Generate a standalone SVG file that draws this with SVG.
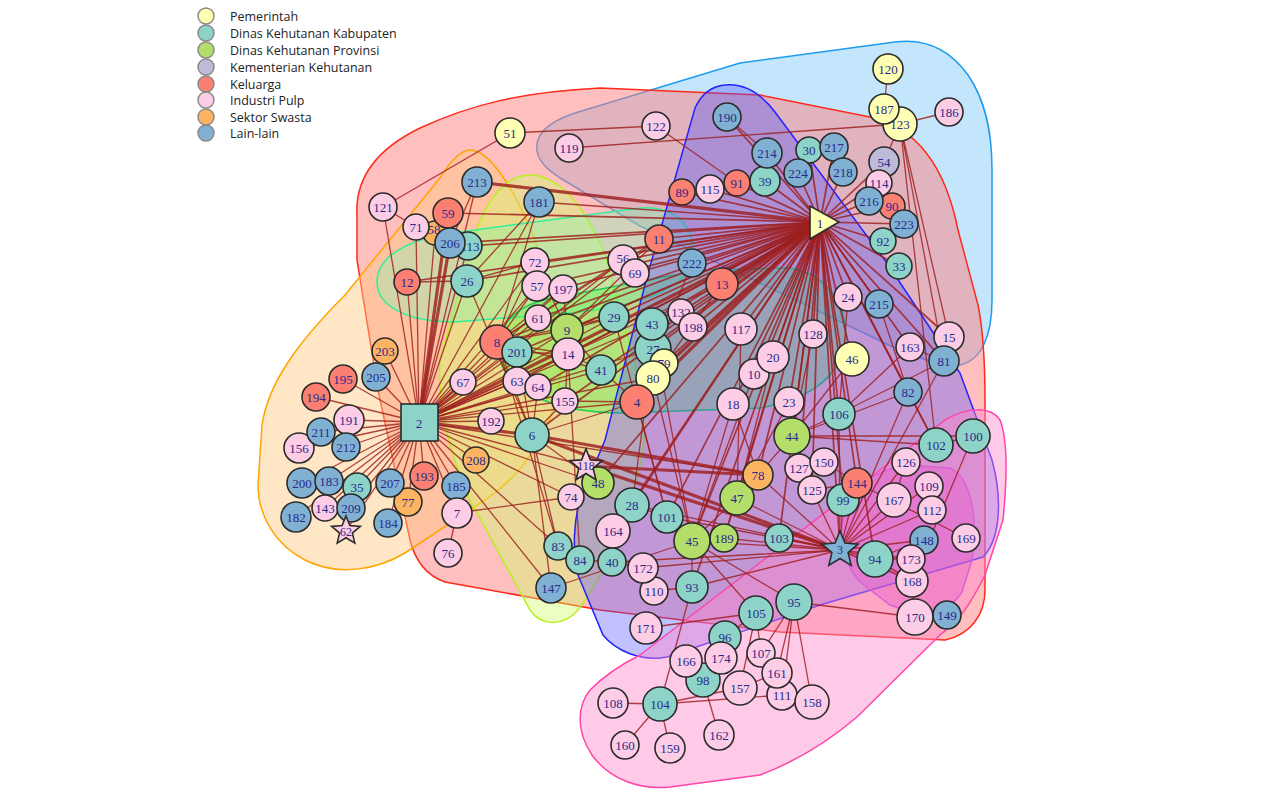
<svg xmlns="http://www.w3.org/2000/svg" width="1268" height="806" viewBox="0 0 1268 806">
<style>
.Y{fill:#FFFFB3}.T{fill:#8DD3C7}.G{fill:#B3DE69}.L{fill:#BEBADA}.R{fill:#FB8072}.P{fill:#FCCDE5}.O{fill:#FDB462}.B{fill:#80B1D3}
#nodes circle,#nodes rect,#nodes polygon{stroke:#2b2b2b;stroke-width:1.6}
#nodes text{font-family:"Liberation Serif","Times New Roman",serif;font-size:13px;fill:#2a2a8a;text-anchor:middle;dominant-baseline:central}
#legend circle{stroke:#8a8a8a;stroke-width:1.5}
#legend text{font-family:"Open Sans","DejaVu Sans",sans-serif;font-size:12.5px;fill:#222}
#connectors line{stroke:#9E1F1F;stroke-opacity:.82;stroke-width:1.3}
#connectors line.h{stroke-width:1.7}
#connectors line.t{stroke-width:3.2}
.hull{stroke-width:1.5}
</style>
<rect width="1268" height="806" fill="#fff"/>
<g id="legend">
<circle cx="206" cy="16" r="8" class="Y"/><text x="230" y="21">Pemerintah</text>
<circle cx="206" cy="33" r="8" class="T"/><text x="230" y="38">Dinas Kehutanan Kabupaten</text>
<circle cx="206" cy="50" r="8" class="G"/><text x="230" y="55">Dinas Kehutanan Provinsi</text>
<circle cx="206" cy="67" r="8" class="L"/><text x="230" y="72">Kementerian Kehutanan</text>
<circle cx="206" cy="84" r="8" class="R"/><text x="230" y="89">Keluarga</text>
<circle cx="206" cy="100" r="8" class="P"/><text x="230" y="105">Industri Pulp</text>
<circle cx="206" cy="117" r="8" class="O"/><text x="230" y="122">Sektor Swasta</text>
<circle cx="206" cy="133" r="8" class="B"/><text x="230" y="138">Lain-lain</text>
</g>
<g id="hulls">
<path class="hull" fill="#87CEFA" fill-opacity=".5" stroke="#1E9BEF" d="M 537,150 C 535,135 548,122 575,113 L 740,63 L 895,42 C 925,38 950,50 968,75 C 985,100 992,130 992,170 L 992,300 C 992,335 982,360 960,365 C 945,368 925,360 895,348 L 760,283 L 640,226 L 560,178 C 545,168 538,160 537,150 Z"/>
<path class="hull" fill="#FF7F7F" fill-opacity=".5" stroke="#FF2A1A" d="M 357,215 C 355,180 375,150 420,128 C 470,105 520,92 600,88 L 760,95 L 870,117 C 915,127 945,165 958,230 L 978,305 C 983,330 985,360 985,400 L 985,590 C 985,615 970,635 945,640 L 780,632 L 600,610 L 445,582 C 425,575 415,560 410,540 L 378,390 L 357,260 Z"/>
<path class="hull" fill="#FFC77F" fill-opacity=".45" stroke="#FFA500" d="M 470,150 C 490,150 515,190 535,240 L 560,340 C 568,410 530,470 485,500 L 405,553 C 380,568 340,578 305,560 C 275,545 258,515 258,485 L 262,425 C 268,385 295,345 345,295 L 440,178 C 450,162 460,150 470,150 Z"/>
<path class="hull" fill="#CCFF66" fill-opacity=".4" stroke="#B8F020" d="M 530,175 C 558,175 585,205 605,255 L 645,400 C 650,470 615,560 578,610 C 562,628 540,625 530,610 L 470,500 C 448,450 437,400 440,360 L 475,235 C 488,195 508,175 530,175 Z"/>
<path class="hull" fill="#66FFB2" fill-opacity=".3" stroke="#33EE99" d="M 377,282 C 377,255 410,238 460,232 L 640,208 C 678,205 697,230 692,258 C 688,290 640,305 580,312 L 455,322 C 405,322 377,305 377,282 Z"/>
<path class="hull" fill="#33FF33" fill-opacity=".3" stroke="#22CC55" d="M 500,340 C 505,312 530,300 570,295 L 700,270 L 790,268 C 830,275 850,310 845,345 C 838,380 805,400 760,408 L 620,413 C 560,412 510,395 500,360 Z"/>
<path class="hull" fill="#4D4DFF" fill-opacity=".35" stroke="#2222FF" d="M 725,85 C 745,83 762,95 775,112 L 887,263 L 960,373 L 992,460 C 1003,500 1000,540 983,557 L 820,605 L 667,657 C 640,662 615,650 603,635 L 578,575 C 572,550 574,520 580,500 L 605,440 L 647,277 L 695,108 C 702,93 712,86 725,85 Z"/>
<path class="hull" fill="#CC33CC" fill-opacity=".4" stroke="#BB44DD" d="M 842,525 C 845,490 875,470 905,465 L 950,468 C 972,478 978,520 972,560 L 962,592 C 948,615 918,616 890,605 L 860,582 C 847,568 840,545 842,525 Z"/>
<path class="hull" fill="#FF88CC" fill-opacity=".45" stroke="#FF44AA" d="M 640,655 L 757,565 L 880,470 L 945,420 C 965,408 990,405 1000,420 C 1008,440 1007,480 1003,520 L 985,575 C 970,605 960,620 940,635 L 857,717 C 830,740 800,760 760,775 L 670,787 C 640,790 610,780 592,755 C 575,730 578,705 590,690 C 605,675 620,665 640,655 Z"/>
</g>
<g id="connectors">
<line class="t" x1="820" y1="222" x2="477" y2="182"/>
<line class="h" x1="820" y1="222" x2="539" y2="202"/>
<line class="h" x1="820" y1="222" x2="448" y2="213"/>
<line class="h" x1="820" y1="222" x2="450" y2="243"/>
<line class="h" x1="820" y1="222" x2="468" y2="246"/>
<line class="h" x1="820" y1="222" x2="467" y2="281"/>
<line class="h" x1="820" y1="222" x2="407" y2="282"/>
<line class="h" x1="820" y1="222" x2="659" y2="239"/>
<line class="h" x1="820" y1="222" x2="623" y2="260"/>
<line class="h" x1="820" y1="222" x2="635" y2="273"/>
<line class="h" x1="820" y1="222" x2="692" y2="263"/>
<line class="t" x1="820" y1="222" x2="722" y2="284"/>
<line class="h" x1="820" y1="222" x2="535" y2="262"/>
<line class="h" x1="820" y1="222" x2="537" y2="286"/>
<line class="h" x1="820" y1="222" x2="563" y2="288"/>
<line class="h" x1="820" y1="222" x2="538" y2="318"/>
<line class="h" x1="820" y1="222" x2="567" y2="330"/>
<line class="h" x1="820" y1="222" x2="568" y2="354"/>
<line class="h" x1="820" y1="222" x2="497" y2="342"/>
<line class="h" x1="820" y1="222" x2="517" y2="352"/>
<line class="h" x1="820" y1="222" x2="614" y2="317"/>
<line class="h" x1="820" y1="222" x2="652" y2="324"/>
<line class="h" x1="820" y1="222" x2="681" y2="312"/>
<line class="h" x1="820" y1="222" x2="693" y2="327"/>
<line class="h" x1="820" y1="222" x2="741" y2="329"/>
<line class="h" x1="820" y1="222" x2="653" y2="349"/>
<line class="h" x1="820" y1="222" x2="664" y2="363"/>
<line class="t" x1="820" y1="222" x2="653" y2="378"/>
<line class="h" x1="820" y1="222" x2="601" y2="370"/>
<line class="h" x1="820" y1="222" x2="517" y2="381"/>
<line class="h" x1="820" y1="222" x2="538" y2="387"/>
<line class="h" x1="820" y1="222" x2="565" y2="401"/>
<line class="t" x1="820" y1="222" x2="637" y2="402"/>
<line class="h" x1="820" y1="222" x2="733" y2="404"/>
<line class="h" x1="820" y1="222" x2="754" y2="374"/>
<line class="h" x1="820" y1="222" x2="773" y2="357"/>
<line class="h" x1="820" y1="222" x2="813" y2="334"/>
<line class="h" x1="820" y1="222" x2="848" y2="297"/>
<line class="h" x1="820" y1="222" x2="879" y2="304"/>
<line class="h" x1="820" y1="222" x2="852" y2="359"/>
<line class="h" x1="820" y1="222" x2="910" y2="347"/>
<line class="h" x1="820" y1="222" x2="949" y2="337"/>
<line class="h" x1="820" y1="222" x2="944" y2="361"/>
<line class="h" x1="820" y1="222" x2="908" y2="392"/>
<line class="h" x1="820" y1="222" x2="789" y2="402"/>
<line class="h" x1="820" y1="222" x2="839" y2="414"/>
<line class="h" x1="820" y1="222" x2="792" y2="436"/>
<line class="h" x1="820" y1="222" x2="936" y2="445"/>
<line class="h" x1="820" y1="222" x2="857" y2="483"/>
<line class="h" x1="820" y1="222" x2="843" y2="500"/>
<line class="h" x1="820" y1="222" x2="840" y2="550"/>
<line class="h" x1="820" y1="222" x2="875" y2="559"/>
<line class="h" x1="820" y1="222" x2="758" y2="475"/>
<line class="h" x1="820" y1="222" x2="737" y2="498"/>
<line class="h" x1="820" y1="222" x2="692" y2="541"/>
<line class="h" x1="820" y1="222" x2="724" y2="538"/>
<line class="h" x1="820" y1="222" x2="667" y2="517"/>
<line class="h" x1="820" y1="222" x2="632" y2="505"/>
<line class="h" x1="820" y1="222" x2="692" y2="587"/>
<line class="h" x1="820" y1="222" x2="779" y2="538"/>
<line class="h" x1="820" y1="222" x2="812" y2="490"/>
<line class="h" x1="820" y1="222" x2="799" y2="468"/>
<line class="t" x1="820" y1="222" x2="419" y2="422"/>
<line class="h" x1="820" y1="222" x2="532" y2="435"/>
<line class="h" x1="820" y1="222" x2="598" y2="483"/>
<line class="h" x1="820" y1="222" x2="613" y2="531"/>
<line class="h" x1="820" y1="222" x2="682" y2="192"/>
<line class="h" x1="820" y1="222" x2="710" y2="189"/>
<line class="h" x1="820" y1="222" x2="737" y2="183"/>
<line class="h" x1="820" y1="222" x2="765" y2="181"/>
<line class="h" x1="820" y1="222" x2="767" y2="153"/>
<line class="h" x1="820" y1="222" x2="798" y2="173"/>
<line class="h" x1="820" y1="222" x2="809" y2="150"/>
<line class="h" x1="820" y1="222" x2="834" y2="147"/>
<line class="h" x1="820" y1="222" x2="843" y2="172"/>
<line class="h" x1="820" y1="222" x2="884" y2="162"/>
<line class="h" x1="820" y1="222" x2="879" y2="183"/>
<line class="h" x1="820" y1="222" x2="869" y2="201"/>
<line class="h" x1="820" y1="222" x2="892" y2="206"/>
<line class="h" x1="820" y1="222" x2="904" y2="224"/>
<line class="h" x1="820" y1="222" x2="883" y2="241"/>
<line class="h" x1="820" y1="222" x2="899" y2="266"/>
<line class="h" x1="820" y1="222" x2="727" y2="117"/>
<line x1="419" y1="422" x2="407" y2="282"/>
<line x1="419" y1="422" x2="467" y2="281"/>
<line x1="419" y1="422" x2="383" y2="207"/>
<line x1="419" y1="422" x2="416" y2="227"/>
<line class="t" x1="419" y1="422" x2="448" y2="213"/>
<line class="t" x1="419" y1="422" x2="450" y2="243"/>
<line x1="419" y1="422" x2="468" y2="246"/>
<line x1="419" y1="422" x2="477" y2="182"/>
<line x1="419" y1="422" x2="539" y2="202"/>
<line x1="419" y1="422" x2="385" y2="351"/>
<line x1="419" y1="422" x2="376" y2="377"/>
<line x1="419" y1="422" x2="343" y2="379"/>
<line x1="419" y1="422" x2="316" y2="397"/>
<line x1="419" y1="422" x2="349" y2="420"/>
<line x1="419" y1="422" x2="321" y2="432"/>
<line x1="419" y1="422" x2="299" y2="448"/>
<line x1="419" y1="422" x2="346" y2="447"/>
<line x1="419" y1="422" x2="302" y2="483"/>
<line x1="419" y1="422" x2="329" y2="481"/>
<line x1="419" y1="422" x2="357" y2="487"/>
<line x1="419" y1="422" x2="325" y2="508"/>
<line x1="419" y1="422" x2="351" y2="508"/>
<line x1="419" y1="422" x2="296" y2="517"/>
<line x1="419" y1="422" x2="346" y2="531"/>
<line x1="419" y1="422" x2="390" y2="483"/>
<line x1="419" y1="422" x2="388" y2="523"/>
<line x1="419" y1="422" x2="408" y2="502"/>
<line x1="419" y1="422" x2="424" y2="476"/>
<line x1="419" y1="422" x2="456" y2="486"/>
<line x1="419" y1="422" x2="457" y2="513"/>
<line x1="419" y1="422" x2="476" y2="460"/>
<line x1="419" y1="422" x2="491" y2="421"/>
<line x1="419" y1="422" x2="463" y2="382"/>
<line x1="419" y1="422" x2="497" y2="342"/>
<line x1="419" y1="422" x2="517" y2="352"/>
<line x1="419" y1="422" x2="517" y2="381"/>
<line x1="419" y1="422" x2="538" y2="387"/>
<line class="t" x1="419" y1="422" x2="532" y2="435"/>
<line x1="419" y1="422" x2="567" y2="330"/>
<line x1="419" y1="422" x2="568" y2="354"/>
<line x1="419" y1="422" x2="538" y2="318"/>
<line x1="419" y1="422" x2="537" y2="286"/>
<line x1="419" y1="422" x2="535" y2="262"/>
<line x1="419" y1="422" x2="563" y2="288"/>
<line x1="419" y1="422" x2="565" y2="401"/>
<line x1="419" y1="422" x2="601" y2="370"/>
<line x1="419" y1="422" x2="614" y2="317"/>
<line x1="419" y1="422" x2="637" y2="402"/>
<line x1="419" y1="422" x2="653" y2="378"/>
<line x1="419" y1="422" x2="653" y2="349"/>
<line x1="419" y1="422" x2="652" y2="324"/>
<line x1="419" y1="422" x2="623" y2="260"/>
<line x1="419" y1="422" x2="659" y2="239"/>
<line x1="419" y1="422" x2="722" y2="284"/>
<line x1="419" y1="422" x2="586" y2="466"/>
<line x1="419" y1="422" x2="598" y2="483"/>
<line x1="419" y1="422" x2="551" y2="588"/>
<line x1="419" y1="422" x2="558" y2="546"/>
<line x1="419" y1="422" x2="758" y2="475"/>
<line x1="419" y1="422" x2="571" y2="497"/>
<line x1="419" y1="422" x2="435" y2="233"/>
<line x1="840" y1="550" x2="875" y2="559"/>
<line class="h" x1="840" y1="550" x2="912" y2="581"/>
<line x1="840" y1="550" x2="911" y2="559"/>
<line x1="840" y1="550" x2="924" y2="540"/>
<line x1="840" y1="550" x2="857" y2="483"/>
<line x1="840" y1="550" x2="843" y2="500"/>
<line x1="840" y1="550" x2="894" y2="500"/>
<line x1="840" y1="550" x2="932" y2="510"/>
<line x1="840" y1="550" x2="929" y2="486"/>
<line x1="840" y1="550" x2="908" y2="392"/>
<line x1="840" y1="550" x2="944" y2="361"/>
<line x1="840" y1="550" x2="692" y2="541"/>
<line x1="840" y1="550" x2="737" y2="498"/>
<line x1="840" y1="550" x2="724" y2="538"/>
<line x1="840" y1="550" x2="758" y2="475"/>
<line x1="840" y1="550" x2="692" y2="587"/>
<line x1="840" y1="550" x2="779" y2="538"/>
<line x1="840" y1="550" x2="667" y2="517"/>
<line class="t" x1="840" y1="550" x2="586" y2="466"/>
<line class="t" x1="840" y1="550" x2="532" y2="435"/>
<line x1="840" y1="550" x2="839" y2="414"/>
<line x1="840" y1="550" x2="643" y2="568"/>
<line x1="840" y1="550" x2="812" y2="490"/>
<line x1="840" y1="550" x2="906" y2="462"/>
<line x1="840" y1="550" x2="612" y2="562"/>
<line x1="840" y1="550" x2="632" y2="505"/>
<line x1="510" y1="133" x2="656" y2="126"/>
<line x1="510" y1="133" x2="383" y2="207"/>
<line x1="569" y1="148" x2="900" y2="124"/>
<line x1="656" y1="126" x2="737" y2="183"/>
<line x1="727" y1="117" x2="767" y2="153"/>
<line x1="888" y1="69" x2="884" y2="109"/>
<line x1="884" y1="109" x2="900" y2="124"/>
<line x1="900" y1="124" x2="949" y2="112"/>
<line x1="900" y1="124" x2="884" y2="162"/>
<line x1="900" y1="124" x2="949" y2="337"/>
<line x1="900" y1="124" x2="944" y2="361"/>
<line x1="900" y1="124" x2="936" y2="445"/>
<line x1="539" y1="202" x2="467" y2="281"/>
<line x1="539" y1="202" x2="497" y2="342"/>
<line x1="477" y1="182" x2="450" y2="243"/>
<line x1="383" y1="207" x2="416" y2="227"/>
<line x1="407" y1="282" x2="467" y2="281"/>
<line x1="467" y1="281" x2="535" y2="262"/>
<line x1="467" y1="281" x2="532" y2="435"/>
<line x1="535" y1="262" x2="567" y2="330"/>
<line x1="563" y1="288" x2="567" y2="330"/>
<line x1="538" y1="318" x2="567" y2="330"/>
<line x1="567" y1="330" x2="568" y2="354"/>
<line x1="568" y1="354" x2="601" y2="370"/>
<line x1="568" y1="354" x2="565" y2="401"/>
<line x1="568" y1="354" x2="517" y2="352"/>
<line x1="517" y1="381" x2="538" y2="387"/>
<line x1="497" y1="342" x2="517" y2="352"/>
<line x1="497" y1="342" x2="532" y2="435"/>
<line x1="497" y1="342" x2="567" y2="330"/>
<line x1="497" y1="342" x2="568" y2="354"/>
<line x1="497" y1="342" x2="601" y2="370"/>
<line x1="517" y1="352" x2="532" y2="435"/>
<line x1="538" y1="387" x2="532" y2="435"/>
<line x1="565" y1="401" x2="532" y2="435"/>
<line x1="601" y1="370" x2="567" y2="330"/>
<line x1="537" y1="286" x2="497" y2="342"/>
<line x1="535" y1="262" x2="497" y2="342"/>
<line x1="563" y1="288" x2="497" y2="342"/>
<line x1="614" y1="317" x2="497" y2="342"/>
<line x1="614" y1="317" x2="567" y2="330"/>
<line x1="623" y1="260" x2="497" y2="342"/>
<line x1="635" y1="273" x2="567" y2="330"/>
<line x1="659" y1="239" x2="497" y2="342"/>
<line x1="659" y1="239" x2="567" y2="330"/>
<line x1="601" y1="370" x2="637" y2="402"/>
<line x1="637" y1="402" x2="532" y2="435"/>
<line x1="565" y1="401" x2="637" y2="402"/>
<line class="t" x1="532" y1="435" x2="758" y2="475"/>
<line class="t" x1="586" y1="466" x2="758" y2="475"/>
<line x1="532" y1="435" x2="598" y2="483"/>
<line x1="457" y1="513" x2="571" y2="497"/>
<line x1="457" y1="513" x2="448" y2="553"/>
<line x1="551" y1="588" x2="692" y2="541"/>
<line x1="551" y1="588" x2="532" y2="435"/>
<line x1="558" y1="546" x2="532" y2="435"/>
<line x1="558" y1="546" x2="497" y2="342"/>
<line x1="580" y1="560" x2="612" y2="562"/>
<line x1="580" y1="560" x2="568" y2="354"/>
<line x1="613" y1="531" x2="632" y2="505"/>
<line x1="632" y1="505" x2="667" y2="517"/>
<line x1="613" y1="531" x2="612" y2="562"/>
<line x1="643" y1="568" x2="654" y2="591"/>
<line x1="612" y1="562" x2="643" y2="568"/>
<line x1="692" y1="587" x2="660" y2="704"/>
<line x1="660" y1="704" x2="613" y2="703"/>
<line x1="660" y1="704" x2="670" y2="748"/>
<line x1="660" y1="704" x2="625" y2="745"/>
<line x1="660" y1="704" x2="782" y2="695"/>
<line x1="660" y1="704" x2="740" y2="688"/>
<line x1="703" y1="680" x2="719" y2="735"/>
<line x1="703" y1="680" x2="721" y2="658"/>
<line x1="703" y1="680" x2="686" y2="661"/>
<line x1="725" y1="637" x2="721" y2="658"/>
<line x1="725" y1="637" x2="756" y2="613"/>
<line x1="794" y1="602" x2="777" y2="673"/>
<line x1="794" y1="602" x2="782" y2="695"/>
<line x1="794" y1="602" x2="812" y2="702"/>
<line x1="794" y1="602" x2="761" y2="653"/>
<line x1="794" y1="602" x2="692" y2="541"/>
<line x1="794" y1="602" x2="915" y2="617"/>
<line x1="756" y1="613" x2="692" y2="541"/>
<line x1="756" y1="613" x2="761" y2="653"/>
<line x1="756" y1="613" x2="740" y2="688"/>
<line x1="777" y1="673" x2="782" y2="695"/>
<line x1="777" y1="673" x2="740" y2="688"/>
<line x1="875" y1="559" x2="924" y2="540"/>
<line class="h" x1="875" y1="559" x2="912" y2="581"/>
<line x1="875" y1="559" x2="911" y2="559"/>
<line x1="915" y1="617" x2="947" y2="615"/>
<line x1="912" y1="581" x2="915" y2="617"/>
<line x1="936" y1="445" x2="973" y2="436"/>
<line x1="936" y1="445" x2="908" y2="392"/>
<line x1="973" y1="436" x2="912" y2="581"/>
<line x1="894" y1="500" x2="906" y2="462"/>
<line x1="966" y1="538" x2="857" y2="483"/>
<line x1="792" y1="436" x2="839" y2="414"/>
<line x1="792" y1="436" x2="789" y2="402"/>
<line x1="792" y1="436" x2="758" y2="475"/>
<line x1="792" y1="436" x2="936" y2="445"/>
<line x1="792" y1="436" x2="973" y2="436"/>
<line x1="792" y1="436" x2="908" y2="392"/>
<line x1="839" y1="414" x2="910" y2="347"/>
<line x1="839" y1="414" x2="944" y2="361"/>
<line x1="799" y1="468" x2="824" y2="462"/>
<line x1="812" y1="490" x2="857" y2="483"/>
<line x1="824" y1="462" x2="857" y2="483"/>
<line x1="737" y1="498" x2="758" y2="475"/>
<line x1="737" y1="498" x2="692" y2="541"/>
<line x1="737" y1="498" x2="724" y2="538"/>
<line x1="692" y1="541" x2="724" y2="538"/>
<line x1="692" y1="541" x2="667" y2="517"/>
<line x1="692" y1="541" x2="692" y2="587"/>
<line x1="646" y1="628" x2="756" y2="613"/>
<line x1="654" y1="591" x2="692" y2="587"/>
<line x1="949" y1="337" x2="944" y2="361"/>
<line x1="910" y1="347" x2="944" y2="361"/>
<line x1="852" y1="359" x2="792" y2="436"/>
<line x1="813" y1="334" x2="792" y2="436"/>
<line x1="773" y1="357" x2="737" y2="498"/>
<line x1="754" y1="374" x2="692" y2="541"/>
<line x1="733" y1="404" x2="692" y2="541"/>
<line x1="733" y1="404" x2="758" y2="475"/>
<line x1="741" y1="329" x2="737" y2="498"/>
<line x1="789" y1="402" x2="737" y2="498"/>
<line x1="722" y1="284" x2="637" y2="402"/>
<line x1="692" y1="263" x2="637" y2="402"/>
<line x1="652" y1="324" x2="692" y2="541"/>
<line x1="653" y1="349" x2="632" y2="505"/>
<line x1="653" y1="378" x2="692" y2="541"/>
<line x1="637" y1="402" x2="667" y2="517"/>
<line x1="614" y1="317" x2="667" y2="517"/>
<line x1="848" y1="297" x2="839" y2="414"/>
<line x1="879" y1="304" x2="908" y2="392"/>
</g>
<g id="nodes">
<g id="n51"><circle cx="510" cy="133" r="15" class="Y"/><text x="510" y="133">51</text></g>
<g id="n119"><circle cx="569" cy="148" r="14" class="P"/><text x="569" y="148">119</text></g>
<g id="n122"><circle cx="656" cy="126" r="14" class="P"/><text x="656" y="126">122</text></g>
<g id="n190"><circle cx="727" cy="117" r="14" class="B"/><text x="727" y="117">190</text></g>
<g id="n120"><circle cx="888" cy="69" r="15" class="Y"/><text x="888" y="69">120</text></g>
<g id="n123"><circle cx="900" cy="124" r="17" class="Y"/><text x="900" y="124">123</text></g>
<g id="n187"><circle cx="884" cy="109" r="15" class="Y"/><text x="884" y="109">187</text></g>
<g id="n186"><circle cx="949" cy="112" r="14" class="P"/><text x="949" y="112">186</text></g>
<g id="n39"><circle cx="765" cy="181" r="15" class="T"/><text x="765" y="181">39</text></g>
<g id="n214"><circle cx="767" cy="153" r="15" class="B"/><text x="767" y="153">214</text></g>
<g id="n30"><circle cx="809" cy="150" r="13" class="T"/><text x="809" y="150">30</text></g>
<g id="n217"><circle cx="834" cy="147" r="14" class="B"/><text x="834" y="147">217</text></g>
<g id="n224"><circle cx="798" cy="173" r="14" class="B"/><text x="798" y="173">224</text></g>
<g id="n218"><circle cx="843" cy="172" r="14" class="B"/><text x="843" y="172">218</text></g>
<g id="n91"><circle cx="737" cy="183" r="13" class="R"/><text x="737" y="183">91</text></g>
<g id="n115"><circle cx="710" cy="189" r="14" class="P"/><text x="710" y="189">115</text></g>
<g id="n89"><circle cx="682" cy="192" r="13" class="R"/><text x="682" y="192">89</text></g>
<g id="n54"><circle cx="884" cy="162" r="15" class="L"/><text x="884" y="162">54</text></g>
<g id="n114"><circle cx="879" cy="183" r="13" class="P"/><text x="879" y="183">114</text></g>
<g id="n90"><circle cx="892" cy="206" r="13" class="R"/><text x="892" y="206">90</text></g>
<g id="n216"><circle cx="869" cy="201" r="14" class="B"/><text x="869" y="201">216</text></g>
<g id="n92"><circle cx="883" cy="241" r="13" class="T"/><text x="883" y="241">92</text></g>
<g id="n223"><circle cx="904" cy="224" r="14" class="B"/><text x="904" y="224">223</text></g>
<g id="n33"><circle cx="899" cy="266" r="13" class="T"/><text x="899" y="266">33</text></g>
<g id="n1"><polygon points="810,206 810,239 839,222" class="Y"/><text x="820" y="223">1</text></g>
<g id="n213"><circle cx="477" cy="182" r="15" class="B"/><text x="477" y="182">213</text></g>
<g id="n181"><circle cx="539" cy="202" r="15" class="B"/><text x="539" y="202">181</text></g>
<g id="n121"><circle cx="383" cy="207" r="14" class="P"/><text x="383" y="207">121</text></g>
<g id="n58"><circle cx="435" cy="233" r="12" class="O"/><text x="434" y="229">58</text></g>
<g id="n113"><circle cx="468" cy="246" r="14" class="T"/><text x="470" y="246">113</text></g>
<g id="n59"><circle cx="448" cy="213" r="15" class="R"/><text x="448" y="213">59</text></g>
<g id="n71"><circle cx="416" cy="227" r="13" class="P"/><text x="416" y="227">71</text></g>
<g id="n206"><circle cx="450" cy="243" r="15" class="B"/><text x="450" y="243">206</text></g>
<g id="n12"><circle cx="407" cy="282" r="13" class="R"/><text x="407" y="282">12</text></g>
<g id="n26"><circle cx="467" cy="281" r="16" class="T"/><text x="467" y="281">26</text></g>
<g id="n11"><circle cx="659" cy="239" r="14" class="R"/><text x="659" y="239">11</text></g>
<g id="n56"><circle cx="623" cy="260" r="15" class="P"/><text x="623" y="258">56</text></g>
<g id="n69"><circle cx="635" cy="273" r="14" class="P"/><text x="635" y="273">69</text></g>
<g id="n222"><circle cx="692" cy="263" r="14" class="B"/><text x="692" y="263">222</text></g>
<g id="n13"><circle cx="722" cy="284" r="16" class="R"/><text x="722" y="284">13</text></g>
<g id="n72"><circle cx="535" cy="262" r="14" class="P"/><text x="535" y="262">72</text></g>
<g id="n57"><circle cx="537" cy="286" r="15" class="P"/><text x="537" y="286">57</text></g>
<g id="n197"><circle cx="563" cy="289" r="14" class="P"/><text x="563" y="289">197</text></g>
<g id="n61"><circle cx="538" cy="318" r="13" class="P"/><text x="538" y="318">61</text></g>
<g id="n9"><circle cx="567" cy="330" r="16" class="G"/><text x="567" y="330">9</text></g>
<g id="n14"><circle cx="568" cy="354" r="16" class="P"/><text x="568" y="354">14</text></g>
<g id="n8"><circle cx="497" cy="342" r="17" class="R"/><text x="497" y="342">8</text></g>
<g id="n201"><circle cx="517" cy="352" r="15" class="T"/><text x="517" y="352">201</text></g>
<g id="n29"><circle cx="614" cy="317" r="15" class="T"/><text x="614" y="317">29</text></g>
<g id="n27"><circle cx="653" cy="349" r="18" class="T"/><text x="653" y="349">27</text></g>
<g id="n43"><circle cx="652" cy="324" r="16" class="T"/><text x="652" y="324">43</text></g>
<g id="n79"><circle cx="664" cy="363" r="14" class="Y"/><text x="664" y="363">79</text></g>
<g id="n80"><circle cx="653" cy="378" r="17" class="Y"/><text x="653" y="378">80</text></g>
<g id="n132"><circle cx="681" cy="312" r="13" class="P"/><text x="681" y="312">132</text></g>
<g id="n198"><circle cx="693" cy="327" r="14" class="P"/><text x="693" y="327">198</text></g>
<g id="n117"><circle cx="741" cy="329" r="16" class="P"/><text x="741" y="329">117</text></g>
<g id="n41"><circle cx="601" cy="370" r="15" class="T"/><text x="601" y="370">41</text></g>
<g id="n63"><circle cx="517" cy="381" r="14" class="P"/><text x="517" y="381">63</text></g>
<g id="n64"><circle cx="538" cy="387" r="13" class="P"/><text x="538" y="387">64</text></g>
<g id="n155"><circle cx="565" cy="401" r="13" class="P"/><text x="565" y="401">155</text></g>
<g id="n4"><circle cx="637" cy="402" r="17" class="R"/><text x="637" y="402">4</text></g>
<g id="n18"><circle cx="733" cy="404" r="16" class="P"/><text x="733" y="404">18</text></g>
<g id="n10"><circle cx="754" cy="374" r="15" class="P"/><text x="754" y="374">10</text></g>
<g id="n20"><circle cx="773" cy="357" r="16" class="P"/><text x="773" y="357">20</text></g>
<g id="n128"><circle cx="813" cy="334" r="14" class="P"/><text x="813" y="334">128</text></g>
<g id="n24"><circle cx="848" cy="297" r="14" class="P"/><text x="848" y="297">24</text></g>
<g id="n215"><circle cx="879" cy="304" r="14" class="B"/><text x="879" y="304">215</text></g>
<g id="n46"><circle cx="852" cy="359" r="17" class="Y"/><text x="852" y="359">46</text></g>
<g id="n163"><circle cx="910" cy="347" r="14" class="P"/><text x="910" y="347">163</text></g>
<g id="n15"><circle cx="949" cy="337" r="15" class="P"/><text x="949" y="337">15</text></g>
<g id="n81"><circle cx="944" cy="361" r="15" class="B"/><text x="944" y="361">81</text></g>
<g id="n82"><circle cx="908" cy="392" r="14" class="B"/><text x="908" y="392">82</text></g>
<g id="n23"><circle cx="789" cy="402" r="15" class="P"/><text x="789" y="402">23</text></g>
<g id="n106"><circle cx="839" cy="414" r="16" class="T"/><text x="839" y="414">106</text></g>
<g id="n44"><circle cx="792" cy="436" r="18" class="G"/><text x="792" y="436">44</text></g>
<g id="n100"><circle cx="973" cy="436" r="17" class="T"/><text x="973" y="436">100</text></g>
<g id="n102"><circle cx="936" cy="445" r="17" class="T"/><text x="936" y="445">102</text></g>
<g id="n126"><circle cx="906" cy="462" r="14" class="P"/><text x="906" y="462">126</text></g>
<g id="n127"><circle cx="799" cy="468" r="14" class="P"/><text x="799" y="468">127</text></g>
<g id="n150"><circle cx="824" cy="462" r="14" class="P"/><text x="824" y="462">150</text></g>
<g id="n125"><circle cx="812" cy="490" r="14" class="P"/><text x="812" y="490">125</text></g>
<g id="n99"><circle cx="843" cy="500" r="16" class="T"/><text x="843" y="500">99</text></g>
<g id="n144"><circle cx="857" cy="483" r="15" class="R"/><text x="857" y="483">144</text></g>
<g id="n167"><circle cx="894" cy="500" r="17" class="P"/><text x="894" y="500">167</text></g>
<g id="n109"><circle cx="929" cy="486" r="14" class="P"/><text x="929" y="486">109</text></g>
<g id="n112"><circle cx="932" cy="510" r="14" class="P"/><text x="932" y="510">112</text></g>
<g id="n169"><circle cx="966" cy="538" r="14" class="P"/><text x="966" y="538">169</text></g>
<g id="n148"><circle cx="924" cy="540" r="14" class="B"/><text x="924" y="540">148</text></g>
<g id="n94"><circle cx="875" cy="559" r="18" class="T"/><text x="875" y="559">94</text></g>
<g id="n168"><circle cx="912" cy="581" r="16" class="P"/><text x="912" y="581">168</text></g>
<g id="n173"><circle cx="911" cy="559" r="14" class="P"/><text x="911" y="559">173</text></g>
<g id="n149"><circle cx="947" cy="615" r="14" class="B"/><text x="947" y="615">149</text></g>
<g id="n170"><circle cx="915" cy="617" r="18" class="P"/><text x="915" y="617">170</text></g>
<g id="n3"><polygon points="840,531 845,543.1 858.1,544.1 848.1,552.6 851.2,565.4 840,558.5 828.8,565.4 831.9,552.6 821.9,544.1 835,543.1" class="B"/><text x="840" y="550" style="font-size:12px">3</text></g>
<g id="n47"><circle cx="737" cy="498" r="17" class="G"/><text x="737" y="498">47</text></g>
<g id="n78"><circle cx="758" cy="475" r="15" class="O"/><text x="758" y="475">78</text></g>
<g id="n103"><circle cx="779" cy="538" r="14" class="T"/><text x="779" y="538">103</text></g>
<g id="n189"><circle cx="724" cy="538" r="14" class="G"/><text x="724" y="538">189</text></g>
<g id="n45"><circle cx="692" cy="541" r="18" class="G"/><text x="692" y="541">45</text></g>
<g id="n101"><circle cx="667" cy="517" r="16" class="T"/><text x="667" y="517">101</text></g>
<g id="n28"><circle cx="632" cy="505" r="17" class="T"/><text x="632" y="505">28</text></g>
<g id="n164"><circle cx="613" cy="531" r="17" class="P"/><text x="613" y="531">164</text></g>
<g id="n110"><circle cx="654" cy="591" r="14" class="P"/><text x="654" y="591">110</text></g>
<g id="n40"><circle cx="612" cy="562" r="14" class="T"/><text x="612" y="562">40</text></g>
<g id="n172"><circle cx="643" cy="568" r="15" class="P"/><text x="643" y="568">172</text></g>
<g id="n93"><circle cx="692" cy="587" r="16" class="T"/><text x="692" y="587">93</text></g>
<g id="n171"><circle cx="646" cy="628" r="16" class="P"/><text x="646" y="628">171</text></g>
<g id="n105"><circle cx="756" cy="613" r="17" class="T"/><text x="756" y="613">105</text></g>
<g id="n95"><circle cx="794" cy="602" r="18" class="T"/><text x="794" y="602">95</text></g>
<g id="n96"><circle cx="725" cy="637" r="16" class="T"/><text x="725" y="637">96</text></g>
<g id="n107"><circle cx="761" cy="653" r="14" class="P"/><text x="761" y="653">107</text></g>
<g id="n111"><circle cx="782" cy="695" r="15" class="P"/><text x="782" y="695">111</text></g>
<g id="n161"><circle cx="777" cy="673" r="15" class="P"/><text x="777" y="673">161</text></g>
<g id="n158"><circle cx="812" cy="702" r="17" class="P"/><text x="812" y="702">158</text></g>
<g id="n98"><circle cx="703" cy="680" r="17" class="T"/><text x="703" y="680">98</text></g>
<g id="n166"><circle cx="686" cy="661" r="16" class="P"/><text x="686" y="661">166</text></g>
<g id="n174"><circle cx="721" cy="658" r="16" class="P"/><text x="721" y="658">174</text></g>
<g id="n157"><circle cx="740" cy="688" r="17" class="P"/><text x="740" y="688">157</text></g>
<g id="n162"><circle cx="719" cy="735" r="15" class="P"/><text x="719" y="735">162</text></g>
<g id="n104"><circle cx="660" cy="704" r="17" class="T"/><text x="660" y="704">104</text></g>
<g id="n108"><circle cx="613" cy="703" r="15" class="P"/><text x="613" y="703">108</text></g>
<g id="n160"><circle cx="625" cy="745" r="14" class="P"/><text x="625" y="745">160</text></g>
<g id="n159"><circle cx="670" cy="748" r="15" class="P"/><text x="670" y="748">159</text></g>
<g id="n6"><circle cx="532" cy="435" r="17" class="T"/><text x="532" y="435">6</text></g>
<g id="n48"><circle cx="598" cy="483" r="16" class="G"/><text x="598" y="483">48</text></g>
<g id="n118"><polygon points="586,449 590.4,459.9 602.2,460.7 593.1,468.3 596,479.8 586,473.5 576,479.8 578.9,468.3 569.8,460.7 581.6,459.9" class="P"/><text x="586" y="466" style="font-size:12px">118</text></g>
<g id="n74"><circle cx="571" cy="497" r="13" class="P"/><text x="571" y="497">74</text></g>
<g id="n83"><circle cx="558" cy="546" r="14" class="T"/><text x="558" y="546">83</text></g>
<g id="n84"><circle cx="580" cy="560" r="14" class="T"/><text x="580" y="560">84</text></g>
<g id="n147"><circle cx="551" cy="588" r="15" class="B"/><text x="551" y="588">147</text></g>
<g id="n67"><circle cx="463" cy="382" r="13" class="P"/><text x="463" y="382">67</text></g>
<g id="n192"><circle cx="491" cy="421" r="13" class="P"/><text x="491" y="421">192</text></g>
<g id="n203"><circle cx="385" cy="351" r="13" class="O"/><text x="385" y="351">203</text></g>
<g id="n205"><circle cx="376" cy="377" r="14" class="B"/><text x="376" y="377">205</text></g>
<g id="n195"><circle cx="343" cy="379" r="14" class="R"/><text x="343" y="379">195</text></g>
<g id="n194"><circle cx="316" cy="397" r="14" class="R"/><text x="316" y="397">194</text></g>
<g id="n156"><circle cx="299" cy="448" r="15" class="P"/><text x="299" y="448">156</text></g>
<g id="n191"><circle cx="349" cy="420" r="15" class="P"/><text x="349" y="420">191</text></g>
<g id="n211"><circle cx="321" cy="432" r="14" class="B"/><text x="321" y="432">211</text></g>
<g id="n212"><circle cx="346" cy="447" r="14" class="B"/><text x="346" y="447">212</text></g>
<g id="n2"><rect x="401" y="404" width="37" height="37" class="T"/><text x="419" y="423">2</text></g>
<g id="n208"><circle cx="476" cy="460" r="13" class="O"/><text x="476" y="460">208</text></g>
<g id="n193"><circle cx="424" cy="476" r="14" class="R"/><text x="424" y="476">193</text></g>
<g id="n185"><circle cx="456" cy="486" r="14" class="B"/><text x="456" y="486">185</text></g>
<g id="n77"><circle cx="408" cy="502" r="14" class="O"/><text x="408" y="502">77</text></g>
<g id="n207"><circle cx="390" cy="483" r="14" class="B"/><text x="390" y="483">207</text></g>
<g id="n7"><circle cx="457" cy="513" r="15" class="P"/><text x="457" y="513">7</text></g>
<g id="n76"><circle cx="448" cy="553" r="14" class="P"/><text x="448" y="553">76</text></g>
<g id="n200"><circle cx="302" cy="483" r="15" class="B"/><text x="302" y="483">200</text></g>
<g id="n35"><circle cx="357" cy="487" r="14" class="T"/><text x="357" y="487">35</text></g>
<g id="n183"><circle cx="329" cy="481" r="14" class="B"/><text x="329" y="481">183</text></g>
<g id="n143"><circle cx="325" cy="508" r="13" class="P"/><text x="325" y="508">143</text></g>
<g id="n209"><circle cx="351" cy="508" r="14" class="B"/><text x="351" y="508">209</text></g>
<g id="n182"><circle cx="296" cy="517" r="15" class="B"/><text x="296" y="517">182</text></g>
<g id="n184"><circle cx="388" cy="523" r="14" class="B"/><text x="388" y="523">184</text></g>
<g id="n62"><polygon points="346,516 349.9,525.6 360.3,526.4 352.4,533.1 354.8,543.1 346,537.7 337.2,543.1 339.6,533.1 331.7,526.4 342.1,525.6" class="P"/><text x="346" y="532" style="font-size:12px">62</text></g>
</g>
</svg>
